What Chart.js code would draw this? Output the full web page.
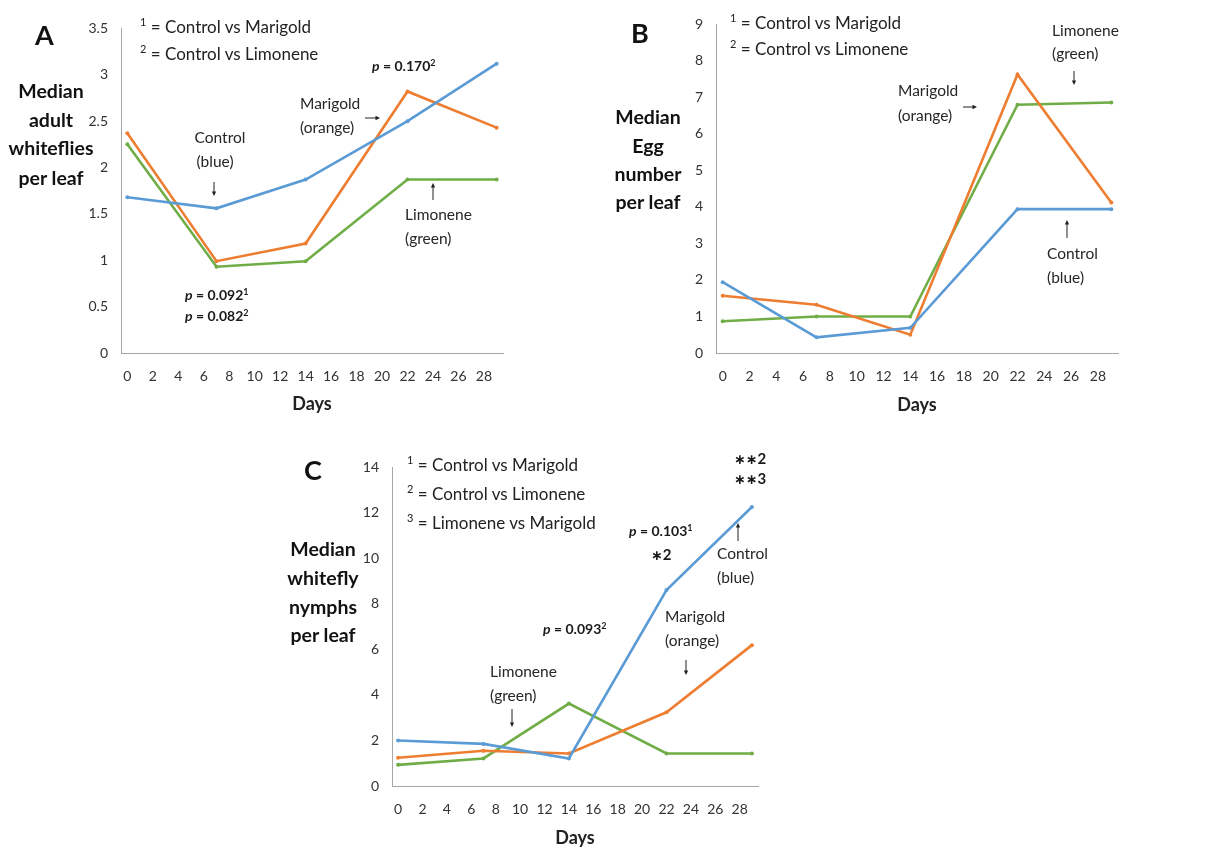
<!DOCTYPE html>
<html>
<head>
<meta charset="utf-8">
<script src="https://cdn.jsdelivr.net/npm/chart.js@4.4.1/dist/chart.umd.min.js"></script>
<style>
body { margin: 0; background: #fff; width: 1213px; height: 848px; position: relative; overflow: hidden;
       font-family: Lato, "Open Sans", sans-serif; color: #222; }
canvas { position: absolute; }
.t { position: absolute; white-space: nowrap; transform: translateY(-50%); font-size: 15.5px; color: #262626; line-height: 1; }
.c { transform: translate(-50%, -50%); }
.leg { font-size: 17px; color: #222; }
.leg sup { font-size: 11px; vertical-align: 7px; }
.yt { font-weight: bold; font-size: 19.5px; color: #111; }
.panel { font-weight: bold; font-size: 27px; color: #111; }
.days { font-weight: bold; font-size: 18px; color: #222; }
.pv { font-weight: bold; font-size: 14px; color: #1a1a1a; }
.pv i { font-style: italic; }
.pv sup { font-size: 9px; vertical-align: 5px; }
.star { font-weight: bold; font-size: 15px; color: #1a1a1a; }
.star b { font-family: "DejaVu Sans", sans-serif; font-size: 14px; }
svg { position: absolute; left: 0; top: 0; }
</style>
</head>
<body>
<canvas id="chartA"></canvas>
<canvas id="chartB"></canvas>
<canvas id="chartC"></canvas>
<svg id="arrows" width="1213" height="848"></svg>
<div id="labels"></div>
<script>
const days = [0, 7, 14, 22, 29];
const dayTicks = [0, 2, 4, 6, 8, 10, 12, 14, 16, 18, 20, 22, 24, 26, 28];

const adultControl = [1.68, 1.56, 1.87, 2.50, 3.12];
const adultMarigold = [2.37, 0.99, 1.18, 2.82, 2.43];
const adultLimonene = [2.25, 0.93, 0.99, 1.87, 1.87];
const adultTicks = [0, 0.5, 1, 1.5, 2, 2.5, 3, 3.5];

const eggControl = [1.94, 0.43, 0.69, 3.94, 3.94];
const eggMarigold = [1.57, 1.32, 0.50, 7.63, 4.12];
const eggLimonene = [0.87, 1.00, 1.00, 6.80, 6.86];
const eggTicks = [0, 1, 2, 3, 4, 5, 6, 7, 8, 9];

const nymphControl = [2.00, 1.85, 1.21, 8.61, 12.26];
const nymphMarigold = [1.24, 1.55, 1.43, 3.24, 6.19];
const nymphLimonene = [0.93, 1.21, 3.62, 1.43, 1.43];
const nymphTicks = [0, 2, 4, 6, 8, 10, 12, 14];

const blue = "#5b9bd5", orange = "#ed7d31", green = "#70ad47";
const yw = 45, xh = 40, padT = 12, padR = 8;

function series(label, values, color) {
    return {
        label: label,
        data: days.map((d, i) => ({ x: d, y: values[i] })),
        borderColor: color,
        backgroundColor: color,
        borderWidth: 2.6,
        pointRadius: 2,
        pointBorderWidth: 0,
        tension: 0
    };
}

function makeChart(id, area, yTicks, control, marigold, limonene) {
    const cv = document.getElementById(id);
    cv.width = area.w + yw + padR;
    cv.height = area.h + padT + xh;
    cv.style.left = (area.x - yw) + "px";
    cv.style.top = (area.y - padT) + "px";
    const tickFont = { family: "Lato", size: 14 };
    return new Chart(cv, {
        type: "line",
        data: {
            datasets: [
                series("Control", control, blue),
                series("Marigold", marigold, orange),
                series("Limonene", limonene, green)
            ]
        },
        options: {
            responsive: false,
            animation: false,
            layout: { padding: { top: padT, right: padR, left: 0, bottom: 0 } },
            plugins: { legend: { display: false }, tooltip: { enabled: false } },
            scales: {
                x: {
                    type: "linear",
                    min: -0.5,
                    max: 29.5,
                    afterBuildTicks: s => { s.ticks = dayTicks.map(v => ({ value: v })); },
                    afterFit: s => { s.height = xh; },
                    grid: { display: false, drawTicks: false },
                    border: { display: true, color: "#a6a6a6", width: 1 },
                    ticks: { color: "#333", font: tickFont, padding: 15, maxRotation: 0, autoSkip: false }
                },
                y: {
                    type: "linear",
                    min: yTicks[0],
                    max: yTicks[yTicks.length - 1],
                    afterBuildTicks: s => { s.ticks = yTicks.map(v => ({ value: v })); },
                    afterFit: s => { s.width = yw; },
                    grid: { display: false, drawTicks: false },
                    border: { display: true, color: "#a6a6a6", width: 1 },
                    ticks: { color: "#333", font: tickFont, padding: 13, callback: v => String(v) }
                }
            }
        }
    });
}

makeChart("chartA", { x: 121, y: 19, w: 382, h: 334 }, adultTicks, adultControl, adultMarigold, adultLimonene);
makeChart("chartB", { x: 716, y: 15, w: 402, h: 338 }, eggTicks, eggControl, eggMarigold, eggLimonene);
makeChart("chartC", { x: 392, y: 458, w: 366, h: 328 }, nymphTicks, nymphControl, nymphMarigold, nymphLimonene);

// text annotations
const labels = document.getElementById("labels");
function txt(x, y, html, cls, centered) {
    const d = document.createElement("div");
    d.className = "t " + (cls || "") + (centered ? " c" : "");
    d.style.left = x + "px";
    d.style.top = y + "px";
    d.innerHTML = html;
    labels.appendChild(d);
}

// panel A
txt(35, 34, "A", "panel");
["Median", "adult", "whiteflies", "per leaf"].forEach((s, i) => txt(51, [91, 120, 148, 178][i], s, "yt", true));
txt(140, 25, "<sup>1</sup> = Control vs Marigold", "leg");
txt(140, 52, "<sup>2</sup> = Control vs Limonene", "leg");
txt(220, 138, "Control", "", true);
txt(215, 162, "(blue)", "", true);
txt(300, 104, "Marigold");
txt(300, 128, "(orange)");
txt(372, 65, "<i>p</i> = 0.170<sup>2</sup>", "pv");
txt(405, 215, "Limonene");
txt(405, 239, "(green)");
txt(185, 294, "<i>p</i> = 0.092<sup>1</sup>", "pv");
txt(185, 315, "<i>p</i> = 0.082<sup>2</sup>", "pv");
txt(312, 403, "Days", "days", true);

// panel B
txt(631, 32, "B", "panel");
["Median", "Egg", "number", "per leaf"].forEach((s, i) => txt(648, [117, 146, 174, 202][i], s, "yt", true));
txt(730, 21, "<sup>1</sup> = Control vs Marigold", "leg");
txt(730, 47, "<sup>2</sup> = Control vs Limonene", "leg");
txt(1052, 31, "Limonene");
txt(1052, 54, "(green)");
txt(898, 91, "Marigold");
txt(898, 116, "(orange)");
txt(1047, 254, "Control");
txt(1047, 278, "(blue)");
txt(917, 404, "Days", "days", true);

// panel C
txt(304, 469, "C", "panel");
["Median", "whitefly", "nymphs", "per leaf"].forEach((s, i) => txt(323, [549, 578, 607, 635][i], s, "yt", true));
txt(407, 463, "<sup>1</sup> = Control vs Marigold", "leg");
txt(407, 492, "<sup>2</sup> = Control vs Limonene", "leg");
txt(407, 521, "<sup>3</sup> = Limonene vs Marigold", "leg");
txt(734, 458, "<b>∗∗</b>2", "star");
txt(734, 478, "<b>∗∗</b>3", "star");
txt(629, 530, "<i>p</i> = 0.103<sup>1</sup>", "pv");
txt(651, 554, "<b>∗</b>2", "star");
txt(717, 554, "Control");
txt(717, 578, "(blue)");
txt(665, 617, "Marigold");
txt(665, 641, "(orange)");
txt(543, 628, "<i>p</i> = 0.093<sup>2</sup>", "pv");
txt(490, 672, "Limonene");
txt(490, 696, "(green)");
txt(575, 837, "Days", "days", true);

// small arrows
const svg = document.getElementById("arrows");
function arrow(x1, y1, x2, y2) {
    const ns = "http://www.w3.org/2000/svg";
    const ang = Math.atan2(y2 - y1, x2 - x1);
    const line = document.createElementNS(ns, "line");
    line.setAttribute("x1", x1); line.setAttribute("y1", y1);
    line.setAttribute("x2", x2 - 3 * Math.cos(ang)); line.setAttribute("y2", y2 - 3 * Math.sin(ang));
    line.setAttribute("stroke", "#222"); line.setAttribute("stroke-width", "1");
    svg.appendChild(line);
    const head = document.createElementNS(ns, "polygon");
    const a1 = ang + 2.7, a2 = ang - 2.7;
    head.setAttribute("points", `${x2},${y2} ${x2 + 5 * Math.cos(a1)},${y2 + 5 * Math.sin(a1)} ${x2 + 5 * Math.cos(a2)},${y2 + 5 * Math.sin(a2)}`);
    head.setAttribute("fill", "#222");
    svg.appendChild(head);
}
arrow(214, 182, 214, 196);
arrow(365, 118, 380, 118);
arrow(433, 200, 433, 183);
arrow(1074, 71, 1074, 85);
arrow(963, 107, 977, 107);
arrow(1067, 238, 1067, 220);
arrow(738, 541, 738, 523);
arrow(686, 660, 686, 675);
arrow(512, 709, 512, 727);
</script>
</body>
</html>
